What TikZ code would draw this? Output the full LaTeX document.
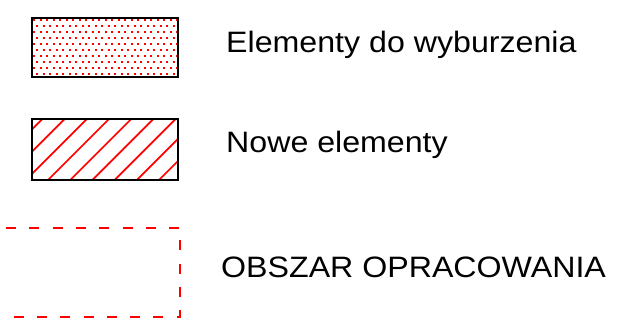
\documentclass[tikz,border=0pt]{standalone}
\usepackage{fontspec}
\setmainfont[FakeStretch=1.09]{Liberation Sans}
\begin{document}
\begin{tikzpicture}[x=1pt,y=-1pt,
  legbox/.style={draw=black,line width=1.8pt,rectangle,minimum width=146pt,inner sep=0pt},
  legtext/.style={anchor=base west,inner sep=0pt,font=\fontsize{29.5}{34}\selectfont},
  hatchline/.style={red,line width=1.7pt},
  dotmark/.style={fill=red,draw=none},
  arealine/.style={red,line width=2.2pt,dash pattern=on 10pt off 13.3pt}]
\useasboundingbox (0,0) rectangle (620,326);
% box 1: dotted
\begin{scope}
  \clip (32,18) rectangle (178,77);
  \foreach \j in {0,...,9}{
    \foreach \i in {0,...,23}{
      \fill[dotmark] ({33+mod(\j,2)*3.25+6.5*\i},{19+6*\j}) rectangle ++(2,2);
    }
  }
\end{scope}
\node[legbox,minimum height=59pt] (demo) at (105,47.5) {};
% box 2: hatched
\begin{scope}
  \clip (32,119) rectangle (178,180);
  \foreach \k in {0,...,8}{
    \draw[hatchline] ({161.4+22.2*\k-200},200) -- ({161.4+22.2*\k-100},100);
  }
\end{scope}
\node[legbox,minimum height=61pt] (nowe) at (105,149.5) {};
% dashed area
\coordinate (a1) at (6,228);
\coordinate (a2) at (180,228);
\coordinate (a3) at (180,317);
\coordinate (a4) at (6,317);
\draw[arealine] (a1) -- (a2) -- (a3) -- (a4);
% texts
\node[legtext] (t1) at (226,53) {Elementy do wyburzenia};
\node[legtext] (t2) at (226,152) {Nowe elementy};
\node[legtext] (t3) at (221,277) {OBSZAR OPRACOWANIA};
\end{tikzpicture}
\end{document}
